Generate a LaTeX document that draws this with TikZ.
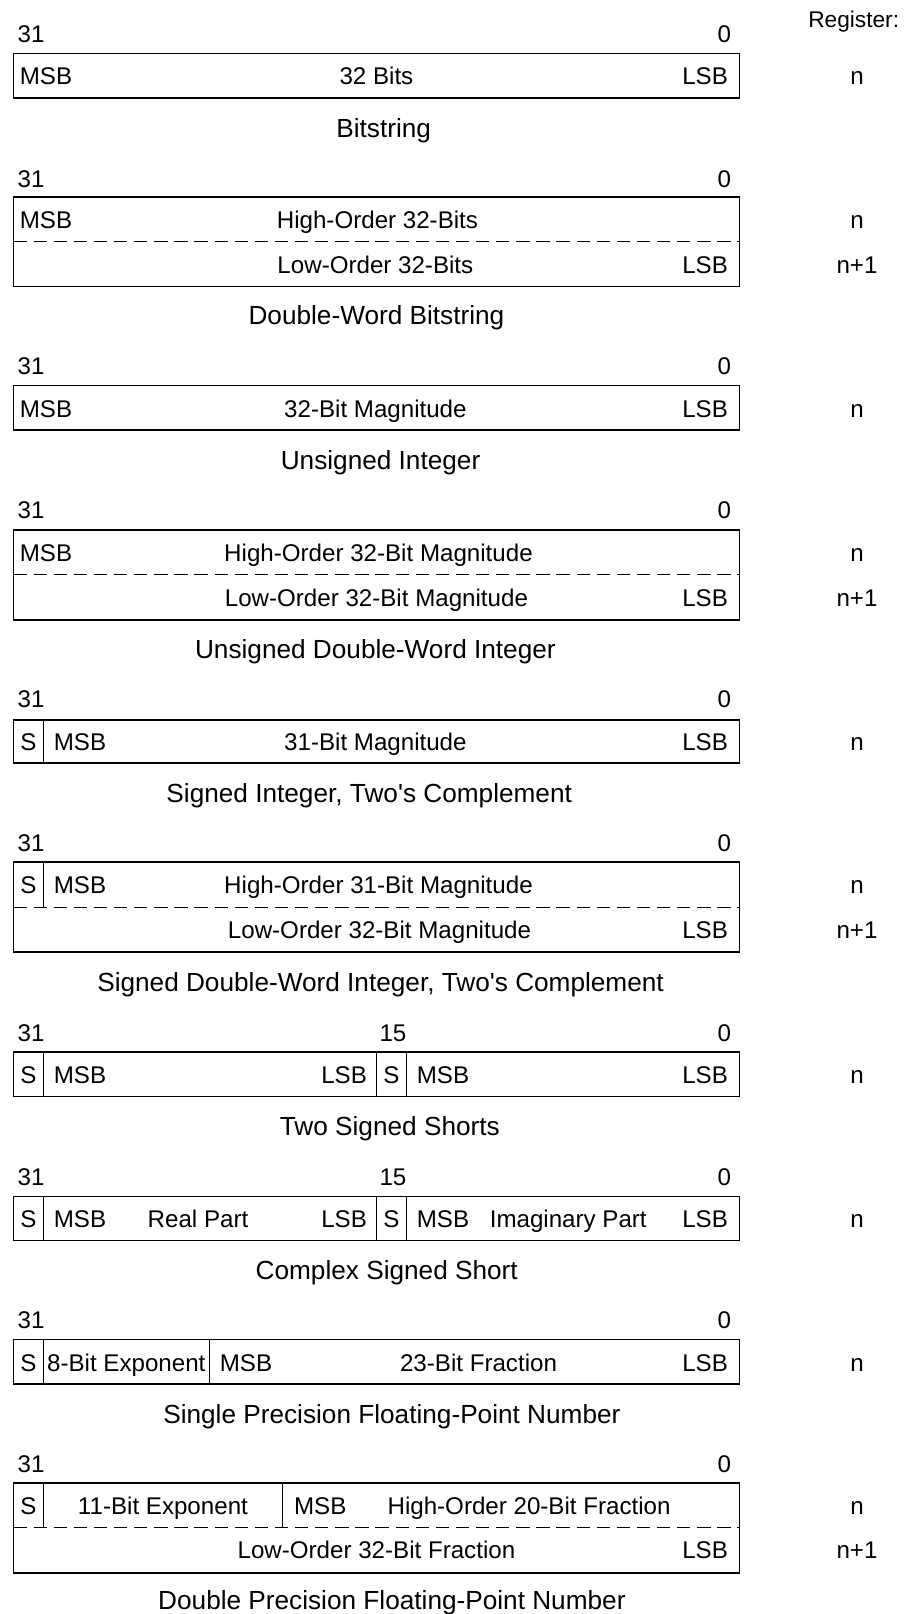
\documentclass[tikz,border=0pt]{standalone}
\usepackage{fontspec}
\setmainfont{Liberation Sans}

\begin{document}
\begin{tikzpicture}[x=1pt,y=1pt,
  box/.style={line width=1.5pt},
  dsh/.style={line width=1.6pt, dash pattern=on 13pt off 6.5pt},
  lbl/.style={inner sep=0pt, text height=16.8pt, text depth=0pt, font=\fontsize{23.4}{28}\selectfont},
  capt/.style={inner sep=0pt, text height=18.2pt, text depth=0pt, font=\fontsize{25.4}{30}\selectfont},
  ]
\useasboundingbox (0,0) rectangle (876,-1565);
\def\xl{13}
\def\xr{717}
%% bit numbers and register column
\node[lbl, anchor=east, font=\fontsize{22}{26}\selectfont] (reg) at (872,-18) {Register:};
\foreach\y [count=\i] in {33,173,355,494,678,817,1001,1141,1280,1419}
  {
  \node[lbl, anchor=west] (hi\i) at (17,-\y) {31};
  \node[lbl, anchor=east] (lo\i) at (709,-\y) {0};
  }
\foreach\y [count=\i] in {74,213,396,536,719,858,1042,1182,1321,1460}
  \node[lbl] (rn\i) at (831,-\y) {n};
\foreach\y [count=\i] in {257,580,902,1503}
  \node[lbl] (rm\i) at (831,-\y) {n+1};
%
% bitstring
\draw[box] (\xl,-52) rectangle (\xr,-95);
\node[lbl, anchor=west] (msb1) at (19,-74) {MSB};
\node[lbl] (fld1) at (365,-74) {32 Bits};
\node[lbl, anchor=east] (lsb1) at (706,-74) {LSB};
\node[capt] (cap1) at (372,-124) {Bitstring};
% double-word bitstring
\draw[box] (\xl,-191) rectangle (\xr,-278);
\draw[dsh] (\xl,-234) -- (\xr,-234);
\node[lbl, anchor=west] (msb2) at (19,-213) {MSB};
\node[lbl] (fld2a) at (366,-213) {High-Order 32-Bits};
\node[lbl] (fld2b) at (364,-257) {Low-Order 32-Bits};
\node[lbl, anchor=east] (lsb2) at (706,-257) {LSB};
\node[capt] (cap2) at (365,-306) {Double-Word Bitstring};
% unsigned integer
\draw[box] (\xl,-374) rectangle (\xr,-417);
\node[lbl, anchor=west] (msb3) at (19,-396) {MSB};
\node[lbl] (fld3) at (364,-396) {32-Bit Magnitude};
\node[lbl, anchor=east] (lsb3) at (706,-396) {LSB};
\node[capt] (cap3) at (369,-446) {Unsigned Integer};
% unsigned double-word integer
\draw[box] (\xl,-514) rectangle (\xr,-601);
\draw[dsh] (\xl,-557) -- (\xr,-557);
\node[lbl, anchor=west] (msb4) at (19,-536) {MSB};
\node[lbl] (fld4a) at (367,-536) {High-Order 32-Bit Magnitude};
\node[lbl] (fld4b) at (365,-580) {Low-Order 32-Bit Magnitude};
\node[lbl, anchor=east] (lsb4) at (706,-580) {LSB};
\node[capt] (cap4) at (364,-629) {Unsigned Double-Word Integer};
% signed integer
\draw[box] (\xl,-698) rectangle (\xr,-740);
\draw[box] (42,-698) -- (42,-740);
\node[lbl] (sgn5) at (27.5,-719) {S};
\node[lbl, anchor=west] (msb5) at (52,-719) {MSB};
\node[lbl] (fld5) at (364,-719) {31-Bit Magnitude};
\node[lbl, anchor=east] (lsb5) at (706,-719) {LSB};
\node[capt] (cap5) at (358,-769) {Signed Integer, Two\textquotesingle s Complement};
% signed double-word integer
\draw[box] (\xl,-836) rectangle (\xr,-923);
\draw[dsh] (\xl,-880) -- (\xr,-880);
\draw[box] (42,-836) -- (42,-880);
\node[lbl] (sgn6) at (27.5,-858) {S};
\node[lbl, anchor=west] (msb6) at (52,-858) {MSB};
\node[lbl] (fld6a) at (367,-858) {High-Order 31-Bit Magnitude};
\node[lbl] (fld6b) at (368,-902) {Low-Order 32-Bit Magnitude};
\node[lbl, anchor=east] (lsb6) at (706,-902) {LSB};
\node[capt] (cap6) at (369,-952) {Signed Double-Word Integer, Two\textquotesingle s Complement};
% two signed shorts
\node[lbl] (mid7) at (381,-1001) {15};
\draw[box] (\xl,-1020) rectangle (\xr,-1063);
\foreach\x in {42,365,394}
  \draw[box] (\x,-1020) -- (\x,-1063);
\node[lbl] (sgn7a) at (27.5,-1042) {S};
\node[lbl, anchor=west] (msb7a) at (52,-1042) {MSB};
\node[lbl, anchor=east] (lsb7a) at (356,-1042) {LSB};
\node[lbl] (sgn7b) at (379.5,-1042) {S};
\node[lbl, anchor=west] (msb7b) at (404,-1042) {MSB};
\node[lbl, anchor=east] (lsb7b) at (706,-1042) {LSB};
\node[capt] (cap7) at (378,-1092) {Two Signed Shorts};
% complex signed short
\node[lbl] (mid8) at (381,-1141) {15};
\draw[box] (\xl,-1160) rectangle (\xr,-1203);
\foreach\x in {42,365,394}
  \draw[box] (\x,-1160) -- (\x,-1203);
\node[lbl] (sgn8a) at (27.5,-1182) {S};
\node[lbl, anchor=west] (msb8a) at (52,-1182) {MSB};
\node[lbl] (fld8a) at (192,-1182) {Real Part};
\node[lbl, anchor=east] (lsb8a) at (356,-1182) {LSB};
\node[lbl] (sgn8b) at (379.5,-1182) {S};
\node[lbl, anchor=west] (msb8b) at (404,-1182) {MSB};
\node[lbl] (fld8b) at (551,-1182) {Imaginary Part};
\node[lbl, anchor=east] (lsb8b) at (706,-1182) {LSB};
\node[capt] (cap8) at (375,-1232) {Complex Signed Short};
% single precision
\draw[box] (\xl,-1299) rectangle (\xr,-1342);
\foreach\x in {42,203}
  \draw[box] (\x,-1299) -- (\x,-1342);
\node[lbl] (sgn9) at (27.5,-1321) {S};
\node[lbl] (exp9) at (122.5,-1321) {8-Bit Exponent};
\node[lbl, anchor=west] (msb9) at (213,-1321) {MSB};
\node[lbl] (fld9) at (464,-1321) {23-Bit Fraction};
\node[lbl, anchor=east] (lsb9) at (706,-1321) {LSB};
\node[capt] (cap9) at (380,-1371) {Single Precision Floating-Point Number};
% double precision
\draw[box] (\xl,-1438) rectangle (\xr,-1525);
\draw[dsh] (\xl,-1481) -- (\xr,-1481);
\foreach\x in {42,274}
  \draw[box] (\x,-1438) -- (\x,-1481);
\node[lbl] (sgn10) at (27.5,-1460) {S};
\node[lbl] (exp10) at (158,-1460) {11-Bit Exponent};
\node[lbl, anchor=west] (msb10) at (285,-1460) {MSB};
\node[lbl] (fld10a) at (513,-1460) {High-Order 20-Bit Fraction};
\node[lbl] (fld10b) at (365,-1503) {Low-Order 32-Bit Fraction};
\node[lbl, anchor=east] (lsb10) at (706,-1503) {LSB};
\node[capt] (cap10) at (380,-1552) {Double Precision Floating-Point Number};
\end{tikzpicture}
\end{document}
